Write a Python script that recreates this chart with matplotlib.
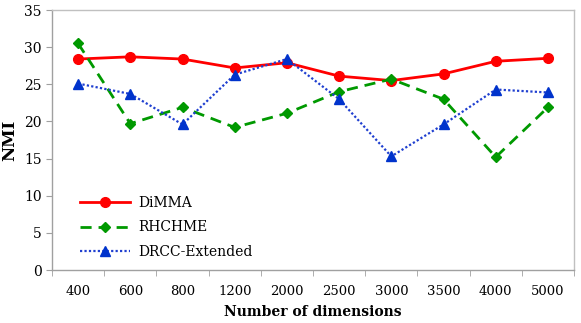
import matplotlib
matplotlib.use("Agg")
import matplotlib.pyplot as plt
from matplotlib.ticker import FixedLocator, NullFormatter

categories = ["400", "600", "800", "1200", "2000", "2500", "3000", "3500", "4000", "5000"]
dimma = [28.4, 28.7, 28.4, 27.2, 27.9, 26.1, 25.5, 26.4, 28.1, 28.5]
rhchme = [30.5, 19.7, 21.9, 19.2, 21.1, 24.0, 25.7, 23.0, 15.2, 21.9]
drcc = [25.1, 23.7, 19.6, 26.3, 28.4, 23.0, 15.3, 19.6, 24.3, 23.9]
yticks = [0, 5, 10, 15, 20, 25, 30, 35]

plt.rcParams['font.family'] = ['DejaVu Serif']

fig = plt.figure(figsize=(5.81, 3.23), dpi=100)
ax = fig.add_axes([0.0895, 0.164, 0.8985, 0.805])
x = list(range(len(categories)))

ax.plot(x, dimma, color='#ff0000', lw=2, marker='o', ms=7, label='DiMMA')
ax.plot(x, rhchme, color='#009900', lw=2, ls=(0, (4, 2.5)), marker='D', ms=5, label='RHCHME')
ax.plot(x, drcc, color='#1f3fd0', lw=1.6, ls=(0, (1, 1)), marker='^', ms=6.5, markerfacecolor='#0033cc', markeredgecolor='#0033cc', label='DRCC-Extended')

ax.set_xlim(-0.5, len(categories) - 0.5)
ax.set_ylim(0, 35)
ax.set_yticks(yticks)
ax.set_xticks(x)
ax.set_xticklabels(categories, fontsize=9.5)
ax.tick_params(axis='x', which='major', length=0, pad=11)
ax.xaxis.set_minor_locator(FixedLocator([i - 0.5 for i in range(len(categories) + 1)]))
ax.xaxis.set_minor_formatter(NullFormatter())
ax.tick_params(axis='x', which='minor', length=4, color='#a0a0a0', direction='out')
ax.tick_params(axis='y', labelsize=10, length=4, color='#a0a0a0', direction='out')

for s in ax.spines.values():
    s.set_color('#c0c0c0')
    s.set_linewidth(1)
ax.spines['left'].set_color('#a0a0a0')
ax.spines['bottom'].set_color('#a0a0a0')

ax.set_ylabel('NMI', fontsize=12, fontweight='bold', labelpad=4)
ax.set_xlabel('Number of dimensions', fontsize=10, fontweight='bold', labelpad=5)

leg = ax.legend(loc='lower left', bbox_to_anchor=(0.03, -0.005), frameon=False,
                fontsize=10, handlelength=3.6, handletextpad=0.6, labelspacing=0.75)

fig.savefig('out.png', dpi=100)
